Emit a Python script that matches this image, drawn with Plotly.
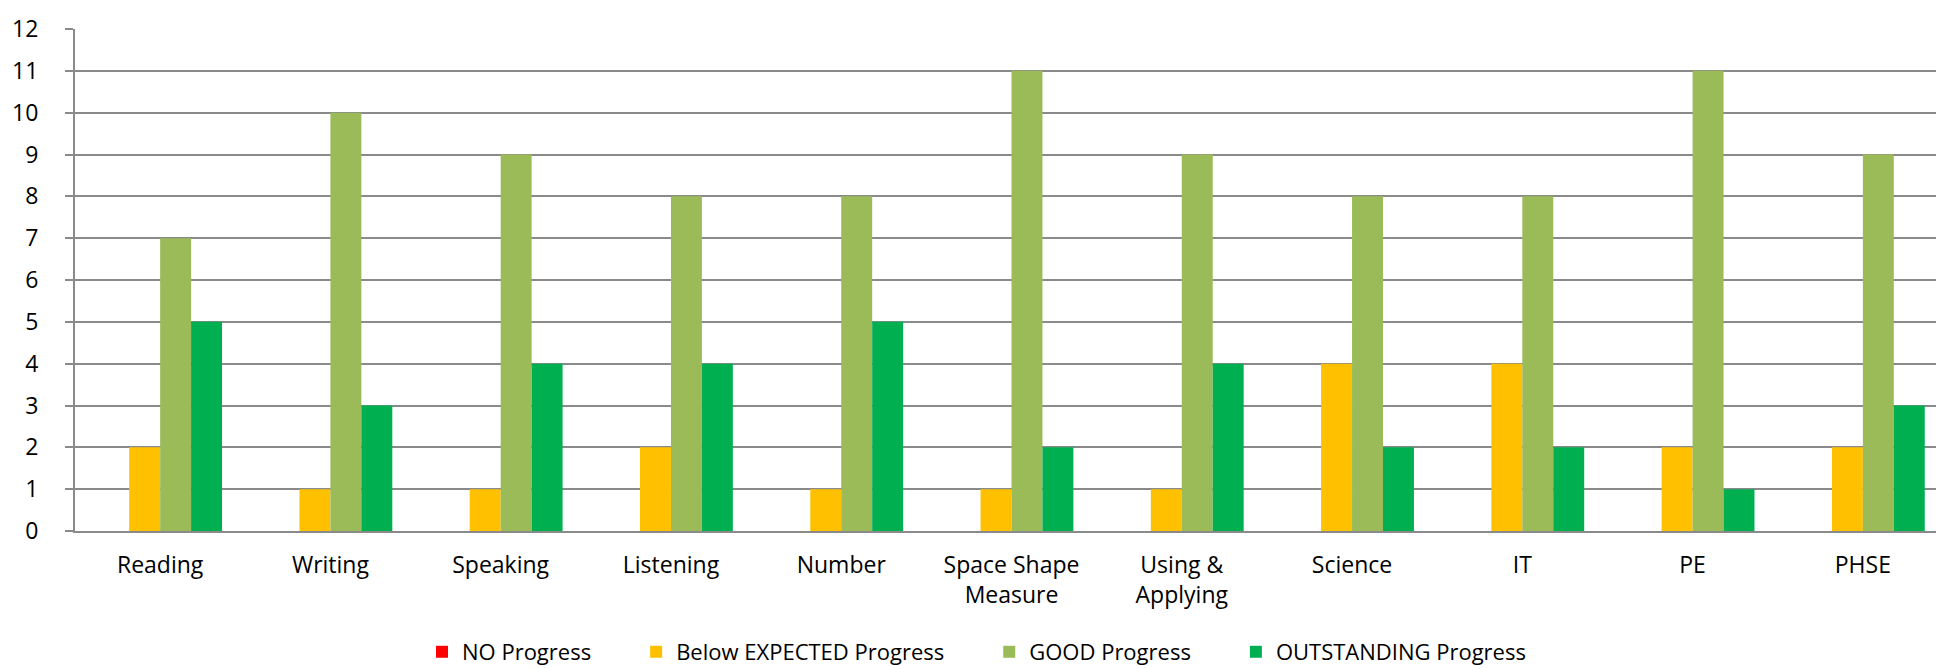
import plotly.graph_objects as go

categories = ["Reading", "Writing", "Speaking", "Listening", "Number",
              "Space Shape<br>Measure", "Using &<br>Applying", "Science", "IT", "PE", "PHSE"]
no_progress = [0, 0, 0, 0, 0, 0, 0, 0, 0, 0, 0]
below_expected = [2, 1, 1, 2, 1, 1, 1, 4, 4, 2, 2]
good_progress = [7, 10, 9, 8, 8, 11, 9, 8, 8, 11, 9]
outstanding = [5, 3, 4, 4, 5, 2, 4, 2, 2, 1, 3]
y_ticks = list(range(0, 13))

series = [
    ("NO Progress", no_progress, "#FF0000"),
    ("Below EXPECTED Progress", below_expected, "#FFC000"),
    ("GOOD Progress", good_progress, "#9BBB59"),
    ("OUTSTANDING Progress", outstanding, "#00B050"),
]

FONT = "Open Sans, Lato, sans-serif"
PAD = "\u00a0" * 7

fig = go.Figure()
for name, vals, col in series:
    fig.add_trace(go.Bar(
        x=categories, y=vals, name=name + PAD,
        marker=dict(color=col, line=dict(width=0)),
    ))

grid = "#8a8a8a"
fig.update_layout(
    width=1944, height=669,
    margin=dict(l=65, r=4, t=17, b=142),
    paper_bgcolor="white", plot_bgcolor="white",
    barmode="group", bargap=0.273, bargroupgap=0,
    font=dict(family=FONT, color="#000000"),
    showlegend=True,
    legend=dict(
        orientation="h", x=0.492, xanchor="center", y=-0.241, yanchor="middle",
        font=dict(family=FONT, size=22, color="#000000"),
        bgcolor="rgba(0,0,0,0)", itemwidth=30,
    ),
    xaxis=dict(
        showgrid=False, showline=True, linecolor=grid, linewidth=2,
        ticks="", tickfont=dict(family=FONT, size=23, color="#000000"),
        ticklabelstandoff=12,
    ),
    yaxis=dict(
        range=[0, 12], tickvals=y_ticks, showgrid=True, gridcolor=grid, gridwidth=2,
        showline=True, linecolor=grid, linewidth=2,
        ticks="outside", ticklen=8, tickcolor=grid, tickwidth=2,
        tickfont=dict(family=FONT, size=23, color="#000000"),
        ticklabelstandoff=22, zeroline=False,
    ),
)

fig.write_html("out.html")
